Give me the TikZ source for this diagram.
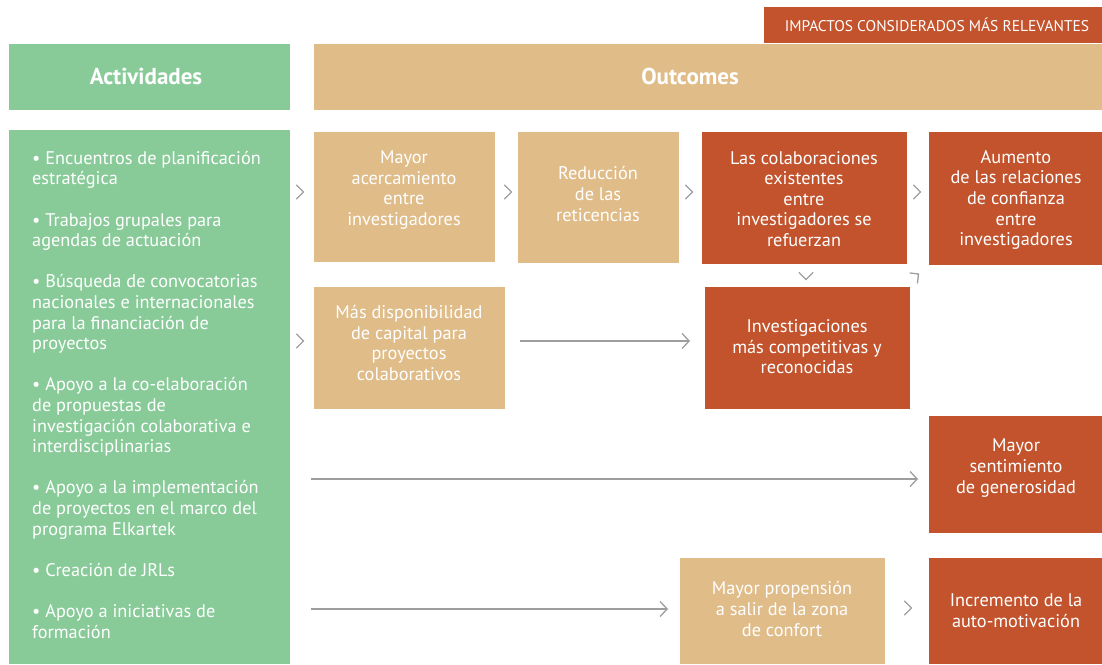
\documentclass[tikz,border=0pt]{standalone}
\usepackage{fontspec}
\setmainfont{PT Sans}
\usetikzlibrary{arrows.meta,calc}
\definecolor{cgreen}{HTML}{88CB99}
\definecolor{ctan}{HTML}{E0BC89}
\definecolor{cred}{HTML}{C2532D}
\definecolor{cgray}{HTML}{9E9E9E}
\begin{document}
\begin{tikzpicture}[x=1pt,y=-1pt,
  rect/.style={inner sep=0pt,outer sep=0pt,anchor=north west},
  tanbox/.style={rect,fill=ctan},
  redbox/.style={rect,fill=cred},
  greenbox/.style={rect,fill=cgreen},
  txt/.style={text=white,align=center,inner sep=0pt,font=\fontsize{18.3}{20.6}\selectfont},
  hdr/.style={text=white,inner sep=0pt,font=\fontsize{23}{26}\selectfont\bfseries},
  chev/.style={draw=cgray,line width=1.3pt,line cap=round,line join=miter},
  arr/.style={draw=cgray,line width=1.4pt,-{Straight Barb[length=7pt,width=15pt,line width=1.3pt]}}
]
\useasboundingbox (0,0) rectangle (1102,664);
% headers
\node[redbox,minimum width=338,minimum height=36] (top) at (764,7) {};
\node[text=white,inner sep=0pt,font=\fontsize{15.5}{18}\selectfont] (toptxt) at (937,25) {IMPACTOS CONSIDERADOS MÁS RELEVANTES};
\node[greenbox,minimum width=281,minimum height=66] (hact) at (9,44) {};
\node[hdr] (hacttxt) at (146,76) {Actividades};
\node[tanbox,minimum width=788,minimum height=66] (hout) at (314,44) {};
\node[hdr] (houttxt) at (690,76) {Outcomes};
% activities column
\node[greenbox,minimum width=281,minimum height=534] (act) at (9,130) {};
\node[text=white,align=left,inner sep=0pt,anchor=north west,font=\fontsize{18.3}{20.6}\selectfont] (acttxt) at (32,151)
{• Encuentros de planificación\\ estratégica\\[20.6pt]
 • Trabajos grupales para\\ agendas de actuación\\[20.6pt]
 • Búsqueda de convocatorias\\ nacionales e internacionales\\ para la financiación de\\ proyectos\\[20.6pt]
 • Apoyo a la co-elaboración\\ de propuestas de\\ investigación colaborativa e\\ interdisciplinarias\\[20.6pt]
 • Apoyo a la implementación\\ de proyectos en el marco del\\ programa Elkartek\\[20.6pt]
 • Creación de JRLs\\[20.6pt]
 • Apoyo a iniciativas de\\ formación};
% outcome boxes
\node[tanbox,minimum width=181,minimum height=130] (b1) at (314,132) {};
\node[txt] (t1) at (404,190) {Mayor\\acercamiento\\entre\\investigadores};
\node[tanbox,minimum width=161,minimum height=131] (b2) at (518,132) {};
\node[txt] (t2) at (598,194) {Reducción\\de las\\reticencias};
\node[redbox,minimum width=205,minimum height=132] (b3) at (702,132) {};
\node[txt] (t3) at (804,199) {Las colaboraciones\\existentes\\entre\\investigadores se\\refuerzan};
\node[redbox,minimum width=173,minimum height=133] (b4) at (929,132) {};
\node[txt] (t4) at (1016,200) {Aumento\\de las relaciones\\de confianza\\entre\\investigadores};
\node[tanbox,minimum width=191,minimum height=122] (b5) at (314,287) {};
\node[txt] (t5) at (409,343) {Más disponibilidad\\de capital para\\proyectos\\colaborativos};
\node[redbox,minimum width=205,minimum height=122] (b6) at (705,287) {};
\node[txt] (t6) at (807,347) {Investigaciones\\más competitivas y\\reconocidas};
\node[redbox,minimum width=173,minimum height=117] (b7) at (929,416) {};
\node[txt] (t7) at (1016,468) {Mayor\\sentimiento\\de generosidad};
\node[tanbox,minimum width=205,minimum height=106] (b8) at (680,558) {};
\node[txt] (t8) at (782,609) {Mayor propensión\\a salir de la zona\\de confort};
\node[redbox,minimum width=173,minimum height=106] (b9) at (929,558) {};
\node[txt] (t9) at (1016,610.5) {Incremento de la\\auto-motivación};
% chevrons
\foreach \cx/\cy in {300/192,508/192,689/192,917/192,300/341,908/608}{
  \draw[chev] (\cx-3.5,\cy-7) -- (\cx+3.5,\cy) -- (\cx-3.5,\cy+7);
}
\draw[chev] (799,272.5) -- (806,279.5) -- (813,272.5);
\draw[chev] (910,273) -- (918.5,274) -- (917.5,283);
% arrows
\draw[arr] ($(b5.east)+(15,-7)$) -- ($(b6.west)+(-15,-7)$);
\draw[arr] ($(act.east |- b7.west)+(21,4.5)$) -- ($(b7.west)+(-11,4.5)$);
\draw[arr] ($(act.east |- b8.west)+(21,-2)$) -- ($(b8.west)+(-12,-2)$);
\end{tikzpicture}
\end{document}
